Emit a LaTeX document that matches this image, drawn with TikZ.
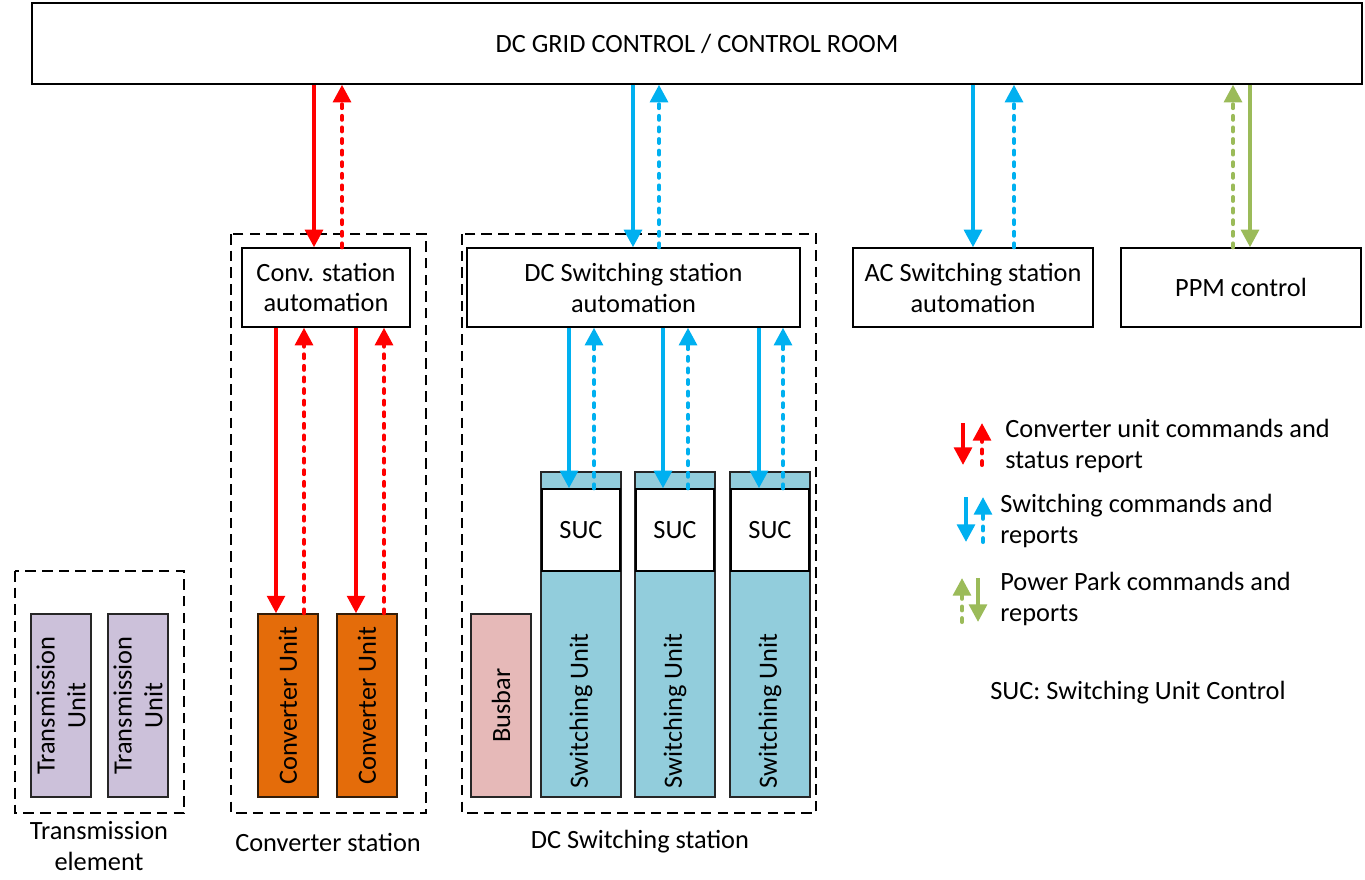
\documentclass[tikz,border=0pt]{standalone}
\usepackage{fontspec}
\setmainfont{Carlito}
\usetikzlibrary{arrows.meta}
\definecolor{cred}{RGB}{255,0,0}
\definecolor{cblue}{RGB}{0,176,240}
\definecolor{cgreen}{RGB}{155,187,89}
\definecolor{corange}{RGB}{228,108,10}
\definecolor{cteal}{RGB}{146,205,220}
\definecolor{cpink}{RGB}{230,185,184}
\definecolor{clav}{RGB}{204,193,218}
\definecolor{cbrown}{RGB}{50,28,8}
\begin{document}
\begin{tikzpicture}[x=0.02cm,y=-0.02cm,
  font=\fontsize{15}{17.6}\selectfont,
  box/.style={draw=black,line width=0.8pt,fill=white,align=center,inner sep=0pt},
  unitbox/.style={draw=black!85,line width=0.8pt,inner sep=0pt,minimum width=1.2cm,minimum height=3.66cm,align=center},
  vlabel/.style={rotate=90,align=center,inner sep=0pt},
  frame/.style={draw=black,line width=0.8pt,dash pattern=on 6pt off 3.5pt},
  cmd/.style={line width=2.3pt,-{Triangle[length=10pt,width=10pt]}},
  rep/.style={line width=2.3pt,dash pattern=on 2.2pt off 4.4pt,line cap=round,-{Triangle[length=10pt,width=10pt]}},
  lgd/.style={anchor=west,align=left,inner sep=0pt}]
\useasboundingbox (0,0) rectangle (1365,879);
\fill[white] (0,0) rectangle (1365,879);

% control room
\node[box,minimum width=26.6cm,minimum height=1.62cm] (top) at (697,43.5) {DC GRID CONTROL / CONTROL ROOM};

% station frames
\draw[frame] (15,571) rectangle (184,813);
\draw[frame] (231,234) rectangle (426,813);
\draw[frame] (462,234) rectangle (816,813);
\node (lte) at (99,846) [align=center] {Transmission\\element};
\node (lcs) at (328,842) {Converter station};
\node (lds) at (640,842) {DC Switching station};

% automation boxes
\node[box,minimum width=3.36cm,minimum height=1.58cm] (cauto) at (326,287.5) {Conv. station\\automation};
\node[box,minimum width=6.66cm,minimum height=1.58cm] (dauto) at (633.5,287.5) {DC Switching station\\automation};
\node[box,minimum width=4.8cm,minimum height=1.58cm] (aauto) at (973,287.5) {AC Switching station\\automation};
\node[box,minimum width=4.8cm,minimum height=1.58cm] (ppm) at (1241,287.5) {PPM control};

% transmission units
\node[unitbox,fill=clav] (tu1) at (61,705.5) {};
\node[unitbox,fill=clav] (tu2) at (138,705.5) {};
\node[vlabel] at (tu1) {Transmission\\Unit};
\node[vlabel] at (tu2) {Transmission\\Unit};

% converter units
\node[unitbox,fill=corange,draw=cbrown] (cu1) at (288,705.5) {};
\node[unitbox,fill=corange,draw=cbrown] (cu2) at (367,705.5) {};
\node[vlabel] at (cu1) {Converter Unit};
\node[vlabel] at (cu2) {Converter Unit};

% busbar and switching units
\node[unitbox,fill=cpink] (bb) at (501,705.5) {};
\node[vlabel] at (bb) {Busbar};
\foreach \i/\x in {1/581,2/675,3/770}{
  \node[draw=black!85,line width=0.8pt,fill=cteal,inner sep=0pt,minimum width=1.6cm,minimum height=6.5cm] (su\i) at (\x,634.5) {};
  \node[box,minimum width=1.56cm,minimum height=1.64cm] (suc\i) at (\x,530) {SUC};
  \node[vlabel] at (\x,711) {Switching Unit};
}

% control room links
\draw[cmd,cred] (top.south -| 314,0) -- (cauto.north -| 314,0);
\draw[rep,cred] (cauto.north -| 342,0) -- (top.south -| 342,0);
\draw[cmd,cblue] (top.south -| 633,0) -- (dauto.north -| 633,0);
\draw[rep,cblue] (dauto.north -| 659,0) -- (top.south -| 659,0);
\draw[cmd,cblue] (top.south -| 973,0) -- (aauto.north -| 973,0);
\draw[rep,cblue] (aauto.north -| 1014,0) -- (top.south -| 1014,0);
\draw[rep,cgreen] (ppm.north -| 1233,0) -- (top.south -| 1233,0);
\draw[cmd,cgreen] (top.south -| 1250,0) -- (ppm.north -| 1250,0);

% converter unit links
\draw[cmd,cred] (cauto.south -| 276,0) -- (cu1.north -| 276,0);
\draw[rep,cred] (cu1.north -| 304,0) -- (cauto.south -| 304,0);
\draw[cmd,cred] (cauto.south -| 356,0) -- (cu2.north -| 356,0);
\draw[rep,cred] (cu2.north -| 384,0) -- (cauto.south -| 384,0);

% switching unit links
\draw[cmd,cblue] (dauto.south -| 569,0) -- (suc1.north -| 569,0);
\draw[rep,cblue] (suc1.north -| 594,0) -- (dauto.south -| 594,0);
\draw[cmd,cblue] (dauto.south -| 663,0) -- (suc2.north -| 663,0);
\draw[rep,cblue] (suc2.north -| 688,0) -- (dauto.south -| 688,0);
\draw[cmd,cblue] (dauto.south -| 759,0) -- (suc3.north -| 759,0);
\draw[rep,cblue] (suc3.north -| 783,0) -- (dauto.south -| 783,0);

% legend
\coordinate (la1) at (963,423); \coordinate (la2) at (963,465);
\coordinate (lb1) at (982,465); \coordinate (lb2) at (982,423);
\draw[cmd,cred] (la1) -- (la2);
\draw[rep,cred] (lb1) -- (lb2);
\node[lgd] (lt1) at (1005,446) {Converter unit commands and\\status report};
\coordinate (lc1) at (966,497); \coordinate (lc2) at (966,542);
\coordinate (ld1) at (983,542); \coordinate (ld2) at (983,497);
\draw[cmd,cblue] (lc1) -- (lc2);
\draw[rep,cblue] (ld1) -- (ld2);
\node[lgd] (lt2) at (1000,521) {Switching commands and\\reports};
\coordinate (le1) at (962,622); \coordinate (le2) at (962,578);
\coordinate (lf1) at (978,578); \coordinate (lf2) at (978,622);
\draw[rep,cgreen] (le1) -- (le2);
\draw[cmd,cgreen] (lf1) -- (lf2);
\node[lgd] (lt3) at (1000,599) {Power Park commands and\\reports};
\node[lgd] (lt4) at (990,693) {SUC: Switching Unit Control};
\end{tikzpicture}
\end{document}
